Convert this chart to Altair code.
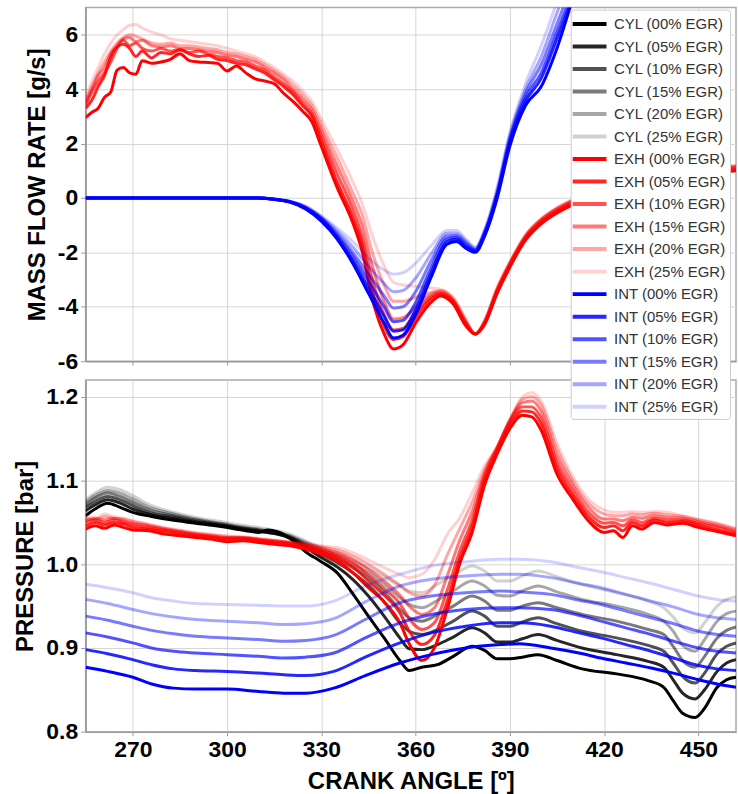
import altair as alt
import pandas as pd

labels = [
    "CYL (00% EGR)", "CYL (05% EGR)", "CYL (10% EGR)", "CYL (15% EGR)", "CYL (20% EGR)", "CYL (25% EGR)",
    "EXH (00% EGR)", "EXH (05% EGR)", "EXH (10% EGR)", "EXH (15% EGR)", "EXH (20% EGR)", "EXH (25% EGR)",
    "INT (00% EGR)", "INT (05% EGR)", "INT (10% EGR)", "INT (15% EGR)", "INT (20% EGR)", "INT (25% EGR)",
]
alphas = [1.0, 0.85, 0.68, 0.52, 0.35, 0.18]
base_rgb = {"CYL": "0,0,0", "EXH": "255,0,0", "INT": "0,0,255"}

x_ticks = [270, 300, 330, 360, 390, 420, 450]
flow_ticks = [-6, -4, -2, 0, 2, 4, 6]
pres_ticks = [0.8, 0.9, 1.0, 1.1, 1.2]

# ---------------- top panel: mass flow rate [g/s] ----------------
flow_exh_angle = [255, 257, 259, 261, 263, 265, 267, 269, 271, 273,
                  276, 279, 282, 285, 288, 291, 294, 297, 300, 303, 306, 309, 312, 315, 318, 321, 324, 327, 330,
                  335, 340, 343, 346, 350, 353, 356, 360, 364, 368, 372, 376, 379, 382, 386, 390, 395, 400, 405,
                  410, 420, 430, 445, 462]
flow_exh_00 = [2.95, 3.15, 3.3, 3.7, 3.9, 4.7, 4.8, 4.6, 4.55, 5.05,
               4.95, 5.0, 5.1, 5.3, 5.05, 5.0, 4.98, 4.95, 4.67, 4.85, 4.6, 4.38, 4.3, 4.2, 3.85, 3.55, 3.2, 2.8, 1.9,
               0.4, -0.9, -1.95, -3.6, -5.0, -5.55, -5.4, -4.6, -3.95, -3.6, -3.9, -4.7, -5.0, -4.65, -3.5, -2.55,
               -1.55, -0.95, -0.55, -0.25, 0.2, 0.5, 0.8, 1.0]
flow_exh_05 = [3.3, 3.6, 4.1, 4.5, 5.2, 5.55, 5.65, 5.5, 5.2, 5.4,
               5.15, 5.35, 5.3, 5.45, 5.3, 5.2, 5.25, 5.1, 5.05, 4.95, 4.9, 4.75, 4.6, 4.35, 4.1, 3.8, 3.4, 3.0, 2.1,
               0.6, -0.7, -1.7, -3.3, -4.7, -5.2, -5.1, -4.4, -3.8, -3.55, -3.85, -4.65, -5.0, -4.6, -3.45, -2.5,
               -1.5, -0.9, -0.5, -0.2, 0.25, 0.55, 0.85, 1.05]
flow_exh_10 = [3.4, 3.9, 4.3, 4.6, 5.0, 5.5, 5.8, 5.6, 5.7, 5.5,
               5.4, 5.5, 5.4, 5.45, 5.35, 5.4, 5.3, 5.2, 5.15, 5.05, 5.0, 4.85, 4.7, 4.45, 4.2, 3.9, 3.5, 3.1, 2.3,
               0.9, -0.4, -1.4, -2.9, -4.3, -4.85, -4.8, -4.2, -3.7, -3.5, -3.8, -4.6, -5.0, -4.6, -3.4, -2.45,
               -1.45, -0.85, -0.45, -0.15, 0.3, 0.6, 0.9, 1.1]
flow_exh_15 = [3.5, 4.0, 4.5, 4.8, 5.3, 5.6, 5.85, 5.9, 5.75, 5.8,
               5.6, 5.55, 5.6, 5.5, 5.5, 5.45, 5.4, 5.35, 5.25, 5.2, 5.1, 5.0, 4.8, 4.6, 4.35, 4.0, 3.65, 3.25, 2.5,
               1.2, -0.1, -1.0, -2.4, -3.8, -4.45, -4.4, -4.0, -3.6, -3.45, -3.75, -4.55, -5.0, -4.55, -3.35, -2.4,
               -1.4, -0.8, -0.4, -0.1, 0.35, 0.65, 0.95, 1.15]
flow_exh_20 = [3.6, 4.1, 4.6, 5.0, 5.4, 5.7, 5.9, 6.0, 5.95, 5.85,
               5.7, 5.65, 5.7, 5.6, 5.6, 5.55, 5.5, 5.45, 5.35, 5.3, 5.2, 5.1, 4.9, 4.7, 4.45, 4.15, 3.8, 3.4, 2.7,
               1.5, 0.2, -0.6, -1.9, -3.2, -3.8, -3.8, -3.65, -3.5, -3.4, -3.7, -4.5, -5.0, -4.5, -3.3, -2.38,
               -1.38, -0.78, -0.38, -0.08, 0.38, 0.68, 0.98, 1.18]
flow_exh_25 = [3.7, 4.3, 4.8, 5.3, 5.7, 6.0, 6.2, 6.35, 6.38, 6.25,
               6.1, 6.0, 5.85, 5.8, 5.75, 5.7, 5.65, 5.6, 5.5, 5.4, 5.3, 5.2, 5.0, 4.8, 4.55, 4.3, 3.95, 3.55, 2.9,
               1.8, 0.6, -0.2, -1.3, -2.5, -3.1, -3.2, -3.25, -3.3, -3.35, -3.65, -4.45, -5.0, -4.5, -3.3, -2.35,
               -1.35, -0.75, -0.35, -0.05, 0.4, 0.7, 1.0, 1.2]

flow_int_angle = [255, 300, 310, 315, 320, 325, 330, 335, 340, 345, 350, 353, 356, 360, 365, 370, 373, 376,
                  379, 382, 386, 390, 395, 400, 405, 410, 415]
flow_int_00 = [0, 0, 0, -0.05, -0.15, -0.4, -0.85, -1.5, -2.4, -3.5, -4.6, -5.15, -5.05, -4.3, -2.9, -1.7, -1.6,
               -1.85, -2.0, -1.4, 0.0, 1.9, 3.4, 4.1, 5.5, 7.3, 9.0]
flow_int_05 = [0, 0, 0, -0.05, -0.15, -0.38, -0.8, -1.45, -2.3, -3.3, -4.35, -4.9, -4.85, -4.1, -2.75, -1.6, -1.52,
               -1.8, -1.97, -1.35, 0.1, 2.0, 3.55, 4.4, 5.85, 7.4, 9.2]
flow_int_10 = [0, 0, 0, -0.05, -0.14, -0.36, -0.76, -1.38, -2.15, -3.05, -4.0, -4.55, -4.5, -3.85, -2.55, -1.5,
               -1.45, -1.72, -1.93, -1.3, 0.15, 2.1, 3.7, 4.6, 6.1, 7.6, 9.4]
flow_int_15 = [0, 0, 0, -0.05, -0.13, -0.34, -0.73, -1.3, -2.0, -2.8, -3.6, -4.05, -4.0, -3.45, -2.3, -1.4,
               -1.38, -1.65, -1.9, -1.25, 0.2, 2.2, 3.85, 4.9, 6.4, 7.9, 9.6]
flow_int_20 = [0, 0, 0, -0.04, -0.13, -0.32, -0.7, -1.2, -1.8, -2.5, -3.15, -3.45, -3.4, -2.95, -2.05, -1.3,
               -1.3, -1.58, -1.85, -1.2, 0.3, 2.3, 4.0, 5.2, 6.8, 8.3, 9.8]
flow_int_25 = [0, 0, 0, -0.04, -0.12, -0.3, -0.65, -1.1, -1.6, -2.2, -2.65, -2.8, -2.75, -2.4, -1.75, -1.2,
               -1.2, -1.5, -1.8, -1.15, 0.4, 2.4, 4.2, 5.6, 7.2, 8.8, 10.0]

# ---------------- bottom panel: pressure [bar] ----------------
pres_cyl_angle = [255, 258, 262, 266, 270, 276, 282, 290, 298, 306, 310, 313, 316, 320, 325, 330, 335, 340,
                  345, 350, 355, 358, 362, 367, 372, 378, 382, 386, 390, 394, 399, 405, 413, 424, 434, 439,
                  442, 445, 449, 452, 456, 459, 462]
pres_cyl_00 = [1.058, 1.066, 1.073, 1.068, 1.062, 1.057, 1.053, 1.049, 1.045, 1.040, 1.038, 1.041, 1.039, 1.031,
               1.015, 1.003, 0.990, 0.965, 0.938, 0.912, 0.885, 0.873, 0.877, 0.880, 0.890, 0.902, 0.897, 0.887,
               0.887, 0.889, 0.892, 0.885, 0.875, 0.869, 0.861, 0.853, 0.837, 0.822, 0.817, 0.828, 0.853, 0.862,
               0.865]
pres_cyl_05 = [1.064, 1.071, 1.077, 1.073, 1.066, 1.059, 1.055, 1.050, 1.046, 1.041, 1.039, 1.038, 1.036, 1.031,
               1.020, 1.008, 0.997, 0.982, 0.962, 0.938, 0.912, 0.899, 0.898, 0.904, 0.913, 0.924, 0.918, 0.907,
               0.907, 0.911, 0.916, 0.909, 0.900, 0.892, 0.884, 0.877, 0.862, 0.846, 0.839, 0.850, 0.872, 0.882,
               0.886]
pres_cyl_10 = [1.068, 1.075, 1.081, 1.077, 1.070, 1.061, 1.057, 1.051, 1.047, 1.042, 1.040, 1.038, 1.036, 1.032,
               1.022, 1.012, 1.002, 0.990, 0.975, 0.955, 0.930, 0.920, 0.916, 0.922, 0.932, 0.944, 0.938, 0.926,
               0.926, 0.931, 0.936, 0.929, 0.920, 0.912, 0.903, 0.896, 0.882, 0.866, 0.858, 0.870, 0.893, 0.902,
               0.906]
pres_cyl_15 = [1.071, 1.079, 1.085, 1.081, 1.074, 1.064, 1.059, 1.053, 1.048, 1.043, 1.041, 1.039, 1.037, 1.033,
               1.024, 1.015, 1.006, 0.996, 0.984, 0.967, 0.946, 0.936, 0.932, 0.940, 0.950, 0.962, 0.956, 0.945,
               0.945, 0.950, 0.954, 0.948, 0.940, 0.932, 0.922, 0.916, 0.902, 0.885, 0.877, 0.890, 0.912, 0.921,
               0.925]
pres_cyl_20 = [1.074, 1.082, 1.088, 1.085, 1.078, 1.067, 1.061, 1.054, 1.049, 1.044, 1.042, 1.040, 1.038, 1.034,
               1.026, 1.018, 1.010, 1.000, 0.990, 0.976, 0.960, 0.952, 0.948, 0.957, 0.968, 0.980, 0.974, 0.963,
               0.962, 0.968, 0.974, 0.967, 0.958, 0.950, 0.940, 0.932, 0.920, 0.903, 0.896, 0.910, 0.932, 0.941,
               0.944]
pres_cyl_25 = [1.077, 1.085, 1.092, 1.089, 1.082, 1.070, 1.063, 1.056, 1.051, 1.046, 1.044, 1.042, 1.040, 1.036,
               1.028, 1.020, 1.013, 1.005, 0.996, 0.985, 0.974, 0.968, 0.966, 0.976, 0.987, 0.998, 0.992, 0.980,
               0.980, 0.986, 0.992, 0.985, 0.976, 0.966, 0.956, 0.948, 0.937, 0.924, 0.918, 0.930, 0.950, 0.958,
               0.961]

pres_exh_angle = [255, 258, 261, 264, 267, 270, 275, 280, 285, 290, 295, 300, 305, 310, 315, 320, 325, 330, 335,
                  340, 345, 350, 355, 358, 362, 366, 370, 374, 378, 382, 386, 390, 394, 397, 400, 405, 410, 415,
                  420, 423, 426, 429, 432, 436, 440, 445, 450, 455, 462]
pres_exh_00 = [1.042, 1.046, 1.043, 1.047, 1.044, 1.041,
               1.040, 1.036, 1.034, 1.032, 1.030, 1.027, 1.028, 1.026, 1.024, 1.022, 1.018, 1.012, 1.004, 0.990,
               0.972, 0.955, 0.930,
               0.905, 0.885, 0.900, 0.945, 1.000, 1.038, 1.095, 1.132, 1.162, 1.178, 1.176, 1.160,
               1.108, 1.078, 1.052, 1.038,
               1.040, 1.032, 1.046, 1.042, 1.050, 1.047,
               1.049, 1.044, 1.040, 1.034]
pres_exh_05 = [1.046, 1.050, 1.047, 1.050, 1.048, 1.044,
               1.042, 1.039, 1.036, 1.034, 1.032, 1.030, 1.030, 1.028, 1.026, 1.024, 1.020, 1.015, 1.008, 0.997,
               0.980, 0.963, 0.942,
               0.920, 0.904, 0.915, 0.955, 1.006, 1.045, 1.100, 1.135, 1.166, 1.183, 1.182, 1.168,
               1.115, 1.083, 1.057, 1.044,
               1.046, 1.040, 1.050, 1.046, 1.053, 1.050,
               1.051, 1.047, 1.042, 1.036]
pres_exh_10 = [1.050, 1.053, 1.050, 1.053, 1.050, 1.047,
               1.044, 1.041, 1.038, 1.035, 1.033, 1.031, 1.031, 1.029, 1.027, 1.025, 1.021, 1.017, 1.011, 1.002,
               0.987, 0.971, 0.953,
               0.935, 0.922, 0.930, 0.968, 1.015, 1.053, 1.105, 1.138, 1.170, 1.188, 1.188, 1.175,
               1.122, 1.089, 1.062, 1.049,
               1.050, 1.046, 1.053, 1.050, 1.055, 1.053,
               1.053, 1.049, 1.045, 1.038]
pres_exh_15 = [1.052, 1.055, 1.053, 1.055, 1.052, 1.049,
               1.046, 1.042, 1.039, 1.036, 1.034, 1.032, 1.032, 1.030, 1.028, 1.026, 1.023, 1.019, 1.014, 1.006,
               0.994, 0.980, 0.963,
               0.950, 0.940, 0.948, 0.985, 1.028, 1.063, 1.109, 1.140, 1.172, 1.193, 1.195, 1.183,
               1.130, 1.095, 1.068, 1.054,
               1.054, 1.052, 1.056, 1.055, 1.058, 1.056,
               1.055, 1.051, 1.047, 1.040]
pres_exh_20 = [1.055, 1.053, 1.057, 1.055, 1.054, 1.051,
               1.047, 1.043, 1.040, 1.037, 1.035, 1.033, 1.032, 1.030, 1.028, 1.026, 1.024, 1.021, 1.017, 1.010,
               1.000, 0.988, 0.975,
               0.966, 0.962, 0.975, 1.010, 1.042, 1.074, 1.113, 1.140, 1.172, 1.197, 1.200, 1.190,
               1.138, 1.100, 1.073, 1.060,
               1.058, 1.058, 1.060, 1.059, 1.061, 1.059,
               1.057, 1.053, 1.049, 1.042]
pres_exh_25 = [1.058, 1.055, 1.060, 1.057, 1.055, 1.052,
               1.048, 1.044, 1.041, 1.038, 1.036, 1.034, 1.033, 1.031, 1.029, 1.027, 1.025, 1.022, 1.020, 1.014,
               1.005, 0.996, 0.988,
               0.984, 0.988, 1.005, 1.035, 1.055, 1.085, 1.118, 1.140, 1.172, 1.200, 1.205, 1.195,
               1.145, 1.105, 1.078, 1.065,
               1.062, 1.062, 1.063, 1.062, 1.063, 1.062,
               1.058, 1.054, 1.050, 1.043]

pres_int_angle = [255, 262, 270, 276, 283, 290, 300, 310, 318, 325, 334, 344, 355, 365, 376, 387, 393, 403, 412,
                  419, 427, 435, 443, 450, 456, 462]
pres_int_00 = [0.877, 0.872, 0.865, 0.857, 0.852, 0.851, 0.851, 0.848, 0.846, 0.846, 0.852, 0.867, 0.882, 0.892,
               0.900, 0.904, 0.905, 0.900, 0.894, 0.888, 0.882, 0.876, 0.869, 0.862, 0.857, 0.853]
pres_int_05 = [0.898, 0.893, 0.886, 0.880, 0.875, 0.873, 0.872, 0.870, 0.868, 0.867, 0.872, 0.889, 0.906, 0.918,
               0.926, 0.930, 0.930, 0.926, 0.918, 0.912, 0.904, 0.896, 0.887, 0.879, 0.875, 0.873]
pres_int_10 = [0.918, 0.913, 0.906, 0.900, 0.896, 0.894, 0.892, 0.890, 0.888, 0.889, 0.894, 0.912, 0.930, 0.940,
               0.946, 0.948, 0.948, 0.946, 0.939, 0.932, 0.924, 0.916, 0.907, 0.900, 0.896, 0.894]
pres_int_15 = [0.938, 0.933, 0.926, 0.921, 0.917, 0.914, 0.912, 0.910, 0.908, 0.909, 0.915, 0.934, 0.954, 0.962,
               0.966, 0.968, 0.967, 0.964, 0.957, 0.952, 0.944, 0.936, 0.928, 0.920, 0.916, 0.914]
pres_int_20 = [0.958, 0.953, 0.946, 0.941, 0.937, 0.934, 0.932, 0.930, 0.928, 0.929, 0.935, 0.955, 0.974, 0.982,
               0.986, 0.988, 0.988, 0.984, 0.977, 0.972, 0.964, 0.956, 0.948, 0.940, 0.936, 0.934]
pres_int_25 = [0.976, 0.972, 0.966, 0.960, 0.956, 0.953, 0.952, 0.951, 0.950, 0.950, 0.956, 0.974, 0.988, 0.998,
               1.003, 1.006, 1.006, 1.003, 0.996, 0.991, 0.984, 0.977, 0.969, 0.962, 0.958, 0.956]

# ---------------- assemble ----------------
colors = []
for lab in labels:
    grp = lab[:3]
    idx = int(lab[5:7]) // 5
    colors.append(f"rgba({base_rgb[grp]},{alphas[idx]})")

def add(rows, group, angles, series_list):
    for i, vals in enumerate(series_list):
        name = f"{group} ({i*5:02d}% EGR)"
        for a, v in zip(angles, vals):
            rows.append({"angle": a, "value": v, "series": name, "order": labels.index(name)})

top_rows = []
add(top_rows, "EXH", flow_exh_angle, [flow_exh_00, flow_exh_05, flow_exh_10, flow_exh_15, flow_exh_20, flow_exh_25])
add(top_rows, "INT", flow_int_angle, [flow_int_00, flow_int_05, flow_int_10, flow_int_15, flow_int_20, flow_int_25])
bot_rows = []
add(bot_rows, "CYL", pres_cyl_angle, [pres_cyl_00, pres_cyl_05, pres_cyl_10, pres_cyl_15, pres_cyl_20, pres_cyl_25])
add(bot_rows, "EXH", pres_exh_angle, [pres_exh_00, pres_exh_05, pres_exh_10, pres_exh_15, pres_exh_20, pres_exh_25])
add(bot_rows, "INT", pres_int_angle, [pres_int_00, pres_int_05, pres_int_10, pres_int_15, pres_int_20, pres_int_25])
df_top = pd.DataFrame(top_rows)
df_bot = pd.DataFrame(bot_rows)

FONT = "Liberation Sans"

color_enc = alt.Color(
    "series:N",
    scale=alt.Scale(domain=labels, range=colors),
    sort=labels,
    legend=alt.Legend(
        title=None, orient="none", legendX=487, legendY=2,
        symbolType="M-2.07,0H2.07", symbolStrokeWidth=4, symbolSize=269,
        symbolOffset=4.5,
        labelFont=FONT, labelFontSize=15, labelColor="#333333", labelOffset=14,
        rowPadding=3.6, padding=4, fillColor="white", strokeColor="#cccccc",
        cornerRadius=3, zindex=5, labelLimit=200,
    ),
)

x_scale = alt.Scale(domain=[255, 462], nice=False, zero=False)

top = alt.Chart(df_top).mark_line(clip=True, strokeWidth=3, interpolate="monotone").encode(
    x=alt.X("angle:Q", scale=x_scale,
            axis=alt.Axis(values=x_ticks, labels=False, title=None, ticks=True, tickSize=4)),
    y=alt.Y("value:Q", scale=alt.Scale(domain=[-6, 7], nice=False, zero=False),
            axis=alt.Axis(values=flow_ticks, title="MASS FLOW RATE [g/s]", labelExpr="'' + datum.value")),
    color=color_enc,
    order=alt.Order("order:Q"),
).properties(width=653, height=355)

bottom = alt.Chart(df_bot).mark_line(clip=True, strokeWidth=3, interpolate="monotone").encode(
    x=alt.X("angle:Q", scale=x_scale,
            axis=alt.Axis(values=x_ticks, title="CRANK ANGLE [º]", format="d", tickSize=4)),
    y=alt.Y("value:Q", scale=alt.Scale(domain=[0.8, 1.22], nice=False, zero=False),
            axis=alt.Axis(values=pres_ticks, title="PRESSURE [bar]", format=".1f")),
    color=color_enc,
).properties(width=653, height=353)

chart = alt.vconcat(top, bottom, spacing=5).resolve_scale(color="shared").properties(
    padding={"left": 13, "top": 5, "right": 1, "bottom": 5}
).configure_view(
    stroke="#aaaaaa", strokeWidth=1.5
).configure_axis(
    labelFont=FONT, labelFontWeight="bold", labelFontSize=23, labelColor="black",
    titleFont=FONT, titleFontWeight="bold", titleFontSize=24, titleColor="black",
    gridColor="#d6d6d6", gridWidth=1, domainColor="#999999", domainWidth=1.5,
    tickColor="#999999", labelPadding=3, titlePadding=8,
)

chart.save("out.html", embed_options={"renderer": "svg", "actions": False})
